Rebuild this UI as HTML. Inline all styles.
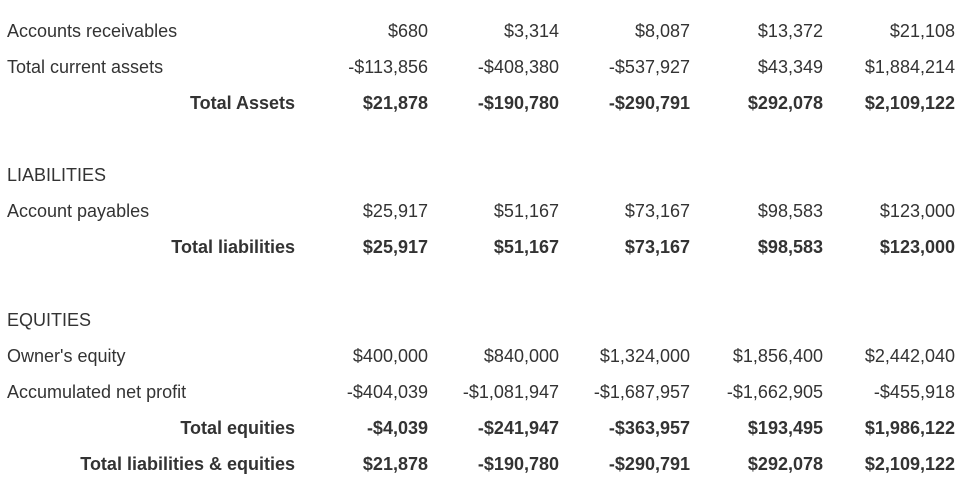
<!DOCTYPE html>
<html><head><meta charset="utf-8"><style>
body{margin:0;width:975px;height:500px;background:#fff;overflow:hidden;font-family:"Liberation Sans",Arial,sans-serif;color:#333;}
.r{position:absolute;left:0;width:975px;height:36px;line-height:36px;font-size:18px;}
.r span{position:absolute;top:0;white-space:nowrap;}
.l{left:7px}
.t{right:680px;font-weight:bold}
.v{text-align:right}
.b{font-weight:bold}
.h{left:7px;}
</style></head><body>
<div id="tbl"></div>
<script>
const rows=[
 ["Accounts receivables","n",["$680","$3,314","$8,087","$13,372","$21,108"],31],
 ["Total current assets","n",["-$113,856","-$408,380","-$537,927","$43,349","$1,884,214"],67],
 ["Total Assets","t",["$21,878","-$190,780","-$290,791","$292,078","$2,109,122"],103],
 ["LIABILITIES","h",[],175],
 ["Account payables","n",["$25,917","$51,167","$73,167","$98,583","$123,000"],211],
 ["Total liabilities","t",["$25,917","$51,167","$73,167","$98,583","$123,000"],247],
 ["EQUITIES","h",[],320],
 ["Owner's equity","n",["$400,000","$840,000","$1,324,000","$1,856,400","$2,442,040"],356],
 ["Accumulated net profit","n",["-$404,039","-$1,081,947","-$1,687,957","-$1,662,905","-$455,918"],392],
 ["Total equities","t",["-$4,039","-$241,947","-$363,957","$193,495","$1,986,122"],428],
 ["Total liabilities & equities","t",["$21,878","-$190,780","-$290,791","$292,078","$2,109,122"],464]
];
const colRight=[428,559,690,823,955];
const tbl=document.getElementById('tbl');
rows.forEach((row,i)=>{
 const d=document.createElement('div');
 d.className='r';
 d.style.top=(row[3]-18)+'px';
 
 
 const lab=document.createElement('span');
 lab.className=row[1]==='t'?'t':'l';
 lab.textContent=row[0];
 
 
 d.appendChild(lab);
 row[2].forEach((v,j)=>{
  const s=document.createElement('span');
  s.className='v'+(row[1]==='t'?' b':'');
  s.style.right=(975-colRight[j])+'px';
  s.textContent=v;
  
  
  d.appendChild(s);
 });
 tbl.appendChild(d);
});
</script>
</body></html>
